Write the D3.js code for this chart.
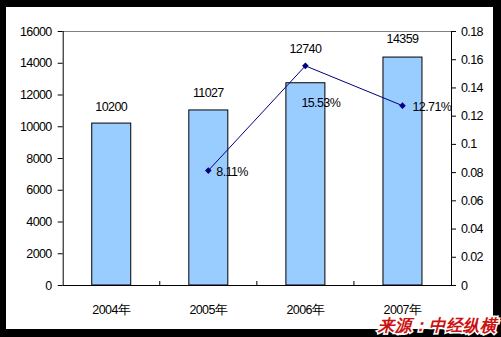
<!DOCTYPE html>
<html>
<head>
<meta charset="utf-8">
<script src="https://cdn.jsdelivr.net/npm/d3@7"></script>
<style>
  body { margin: 0; background: #000; }
  text { font-family: Arial, "Liberation Sans", sans-serif; }
</style>
</head>
<body>
<div id="chart"></div>
<script>
// data
const years = ["2004年", "2005年", "2006年", "2007年"];
const income = [10200, 11027, 12740, 14359];
const growthYears = ["2005年", "2006年", "2007年"];
const growth = [0.0811, 0.1553, 0.1271];
const growthLabels = ["8.11%", "15.53%", "12.71%"];
const leftTicks = [0, 2000, 4000, 6000, 8000, 10000, 12000, 14000, 16000];
const rightTicks = [0, 0.02, 0.04, 0.06, 0.08, 0.1, 0.12, 0.14, 0.16, 0.18];

const W = 501, H = 337;
const plot = {left: 62.7, right: 451, top: 31, bottom: 285};

const svg = d3.select("#chart").append("svg")
    .attr("width", W).attr("height", H);

// black frame + white panel
svg.append("rect").attr("width", W).attr("height", H).attr("fill", "#000");
svg.append("rect").attr("x", 6).attr("y", 7).attr("width", 487).attr("height", 322).attr("fill", "#fff");

const x = d3.scaleBand().domain(years).range([plot.left, plot.right]).paddingInner(0).paddingOuter(0);
const yL = d3.scaleLinear().domain([0, 16000]).range([plot.bottom, plot.top]);
const yR = d3.scaleLinear().domain([0, 0.18]).range([plot.bottom, plot.top]);
const barW = 39;

// top border (grey)
svg.append("line").attr("x1", plot.left).attr("x2", plot.right)
    .attr("y1", plot.top + 0.5).attr("y2", plot.top + 0.5)
    .attr("stroke", "#808080").attr("stroke-width", 1);

// bars
svg.append("g").selectAll("rect").data(income).enter().append("rect")
    .attr("x", (d, i) => x(years[i]) + x.bandwidth() / 2 - barW / 2)
    .attr("y", d => yL(d))
    .attr("width", barW)
    .attr("height", d => yL(0) - yL(d))
    .attr("fill", "#99ccff")
    .attr("stroke", "#000")
    .attr("stroke-width", 1);

// bar value labels
const labelLift = [12, 13, 30, 14];
svg.append("g").selectAll("text").data(income).enter().append("text")
    .attr("x", (d, i) => x(years[i]) + x.bandwidth() / 2)
    .attr("y", (d, i) => yL(d) - labelLift[i])
    .attr("text-anchor", "middle")
    .attr("font-size", 12.5)
    .attr("letter-spacing", -0.6)
    .attr("fill", "#000")
    .text(d => d);

// left axis
const axL = svg.append("g")
    .attr("transform", `translate(${plot.left},0)`)
    .call(d3.axisLeft(yL).tickValues(leftTicks).tickSize(5).tickPadding(6).tickFormat(d3.format("d")));
axL.select(".domain").attr("stroke", "#000").attr("d", `M0.5,${plot.top}V${plot.bottom}`);

// right axis
const axR = svg.append("g")
    .attr("transform", `translate(${plot.right},0)`)
    .call(d3.axisRight(yR).tickValues(rightTicks).tickSize(5).tickPadding(5).tickFormat(d => d === 0 ? "0" : String(+d.toFixed(2))));
axR.select(".domain").attr("stroke", "#000").attr("d", `M0.5,${plot.top}V${plot.bottom}`);

// bottom axis
const axB = svg.append("g")
    .attr("transform", `translate(0,${plot.bottom})`)
    .call(d3.axisBottom(x).tickSize(0).tickPadding(20));
axB.select(".domain").attr("stroke", "#000").attr("d", `M${plot.left},0.5H${plot.right}`);
// category boundary ticks pointing up
axB.selectAll(".sep").data(years.slice(1)).enter().append("line")
    .attr("class", "sep")
    .attr("x1", d => x(d)).attr("x2", d => x(d))
    .attr("y1", 0).attr("y2", -4)
    .attr("stroke", "#000");

svg.selectAll(".tick text")
    .attr("font-size", 12.5)
    .attr("letter-spacing", -0.6)
    .attr("font-family", "Arial, 'Liberation Sans', 'Noto Sans CJK SC', sans-serif")
    .attr("fill", "#000");
svg.selectAll(".tick line").attr("stroke", "#000");

// growth line
const cx = d => x(d) + x.bandwidth() / 2;
const line = d3.line()
    .x((d, i) => cx(growthYears[i]))
    .y(d => yR(d));
svg.append("path").datum(growth)
    .attr("d", line)
    .attr("fill", "none")
    .attr("stroke", "#000080")
    .attr("stroke-width", 1);

// small square diamonds
svg.append("g").selectAll("path").data(growth).enter().append("path")
    .attr("d", d3.symbol().type(d3.symbolSquare).size(22))
    .attr("transform", (d, i) => `translate(${cx(growthYears[i])},${yR(d)}) rotate(45)`)
    .attr("fill", "#000080");

// growth labels
const gdx = [8, -4, 10];
const gdy = [5, 41, 5];
svg.append("g").selectAll("text").data(growth).enter().append("text")
    .attr("x", (d, i) => cx(growthYears[i]) + gdx[i])
    .attr("y", (d, i) => yR(d) + gdy[i])
    .attr("font-size", 12.5)
    .attr("letter-spacing", -0.6)
    .attr("fill", "#000")
    .text((d, i) => growthLabels[i]);

// source watermark
svg.append("text")
    .attr("x", 378).attr("y", 331)
    .attr("font-family", "'Noto Sans CJK SC', sans-serif")
    .attr("font-size", 16.5)
    .attr("font-weight", "bold")
    .attr("font-style", "italic")
    .attr("fill", "#cc1111")
    .attr("stroke", "#fff")
    .attr("stroke-width", 3)
    .attr("paint-order", "stroke")
    .text("来源：中经纵横");
</script>
</body>
</html>
